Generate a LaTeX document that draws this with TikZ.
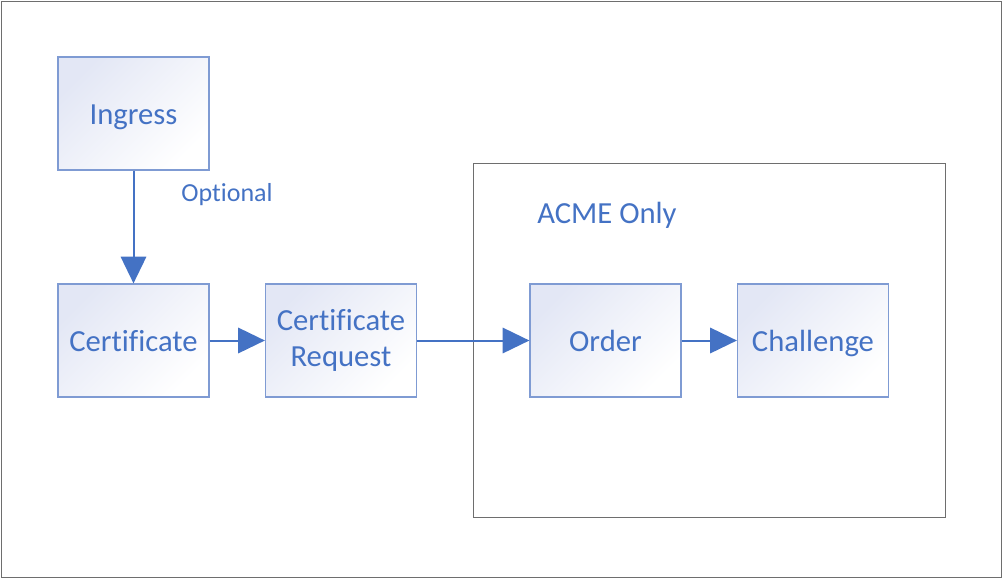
\documentclass[tikz,border=0pt]{standalone}
\usepackage{fontspec}
\setmainfont[Ligatures=CommonOff]{Carlito}
\usetikzlibrary{arrows.meta}
\definecolor{txtblue}{HTML}{4472C4}
\definecolor{boxline}{HTML}{7F9BD3}
\definecolor{boxfill}{HTML}{E3E7F5}
\definecolor{framegray}{HTML}{6E6E6E}
\tikzset{
  px/.style={x=0.75pt,y=-0.75pt},
  block/.style={draw=boxline, line width=0.9pt, inner sep=0pt,
    minimum width=113.25pt, minimum height=84.75pt,
    top color=boxfill, bottom color=white, shading angle=45,
    text=txtblue, font=\fontsize{23}{27.5}\selectfont, align=center},
  oneline/.style={text height=20pt, text depth=4pt},
  flow/.style={draw=txtblue, line width=1.5pt,
    -{Triangle[length=20pt,width=19pt]}, shorten >=0pt},
  frame/.style={draw=framegray, line width=0.75pt, inner sep=0pt},
  lbl/.style={text=txtblue, inner sep=0pt}
}
\begin{document}
\begin{tikzpicture}[px]
\useasboundingbox (0,0) rectangle (1003,579);
\draw[draw=framegray, line width=0.75pt] (1,1) rectangle (1001.5,577.5);
\node[frame, minimum width=354pt, minimum height=265.5pt] (acme) at (709,340) {};
\node[lbl, font=\fontsize{23}{28}\selectfont] (acmelbl) at (607,215.5) {ACME Only};
\node[block, oneline] (ingress) at (133.5,113.5) {Ingress};
\node[block, oneline] (cert) at (133.5,340.5) {Certificate};
\node[block] (certreq) at (341,340.5) {Certificate\\Request};
\node[block, oneline] (order) at (605.5,340.5) {Order};
\node[block, oneline] (chal) at (813,340.5) {Challenge};
\node[lbl, font=\fontsize{19.5}{23}\selectfont] (opt) at (227,195) {Optional};
\draw[flow] (ingress) -- (cert);
\draw[flow] (cert) -- (certreq);
\draw[flow] (certreq) -- (order);
\draw[flow] (order) -- (chal);
\end{tikzpicture}
\end{document}
